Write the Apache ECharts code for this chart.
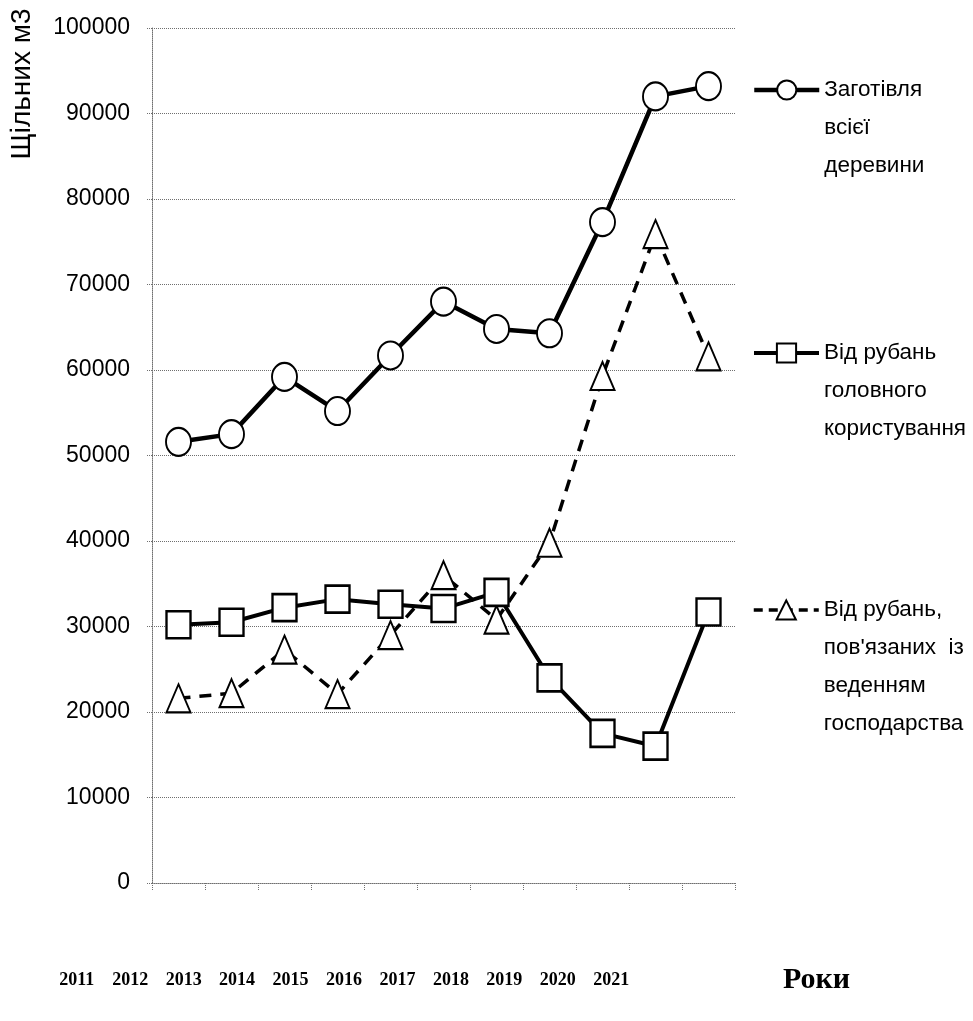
<!DOCTYPE html>
<html>
<head>
<meta charset="utf-8">
<script src="https://cdn.jsdelivr.net/npm/echarts@6/dist/echarts.min.js"></script>
<style>
  html, body { margin: 0; padding: 0; background: #fff; }
  #chart { width: 973px; height: 1021px; }
</style>
</head>
<body>
<div id="chart"></div>
<script>
// Timber harvest, thousand dense m3, by year
const years = ['2011', '2012', '2013', '2014', '2015', '2016', '2017', '2018', '2019', '2020', '2021'];

const seriesNames = [
  'Заготівля всієї деревини',
  'Від рубань головного користування',
  "Від рубань, пов'язаних із веденням господарства"
];

// Legend text broken into lines
const legendLines = [
  ['Заготівля', 'всієї', 'деревини'],
  ['Від рубань', 'головного', 'користування'],
  ['Від рубань,', "пов'язаних  із", 'веденням', 'господарства']
];

const totalHarvest = [51600, 52500, 59200, 55200, 61700, 68000, 64800, 64300, 77300, 92000, 93200];
const mainCuttings = [30200, 30500, 32200, 33200, 32600, 32100, 34000, 24000, 17500, 16000, 31700];
const careCuttings = [21600, 22200, 27300, 22100, 29000, 36000, 30800, 39800, 59300, 75900, 61600];

const yAxisTitle = 'Щільних м3';
const xAxisTitle = 'Роки';

const sansFont = '"Liberation Sans", Arial, sans-serif';
const serifFont = '"Liberation Serif", "Times New Roman", serif';
const dotted = { type: 'dotted', color: '#6f6f6f', width: 1 };
const LEGEND_LINE_HEIGHT = 38;

// Line styles shared by each series and its legend icon
const lineStyles = [
  { color: '#000', width: 4.5, type: 'solid' },
  { color: '#000', width: 4, type: 'solid' },
  { color: '#000', width: 3.5, type: [12, 9] }
];

// The legend centres its text block on the icon; leading blank lines keep
// the first line of each caption level with the icon.
function legendFor(idx, top) {
  const lines = legendLines[idx];
  const lead = new Array(lines.length - 1).fill('');
  return {
    data: [seriesNames[idx]],
    left: 752,
    top: top,
    orient: 'vertical',
    padding: 0,
    itemWidth: 65,
    itemHeight: 24,
    selectedMode: false,
    lineStyle: Object.assign({}, lineStyles[idx], { type: idx === 2 ? [9, 6] : 'solid' }),
    formatter: () => lead.concat(lines).join('\n'),
    textStyle: {
      fontFamily: sansFont,
      fontSize: 22.5,
      color: '#000',
      lineHeight: LEGEND_LINE_HEIGHT
    }
  };
}

const chart = echarts.init(document.getElementById('chart'), null, { renderer: 'canvas' });

chart.setOption({
  backgroundColor: '#fff',
  animation: false,
  grid: [
    { left: 152, right: 238, top: 28, bottom: 138 },
    { left: 50, width: 588, top: 900, height: 80 }
  ],
  legend: [
    legendFor(0, -5),
    legendFor(1, 258),
    legendFor(2, 477)
  ],
  graphic: [{
    type: 'text',
    x: 22,
    y: 84,
    rotation: Math.PI / 2,
    style: {
      text: yAxisTitle,
      font: '28px ' + sansFont,
      fill: '#000',
      align: 'center',
      verticalAlign: 'middle'
    }
  }],
  xAxis: [
    {
      gridIndex: 0,
      type: 'category',
      data: years,
      boundaryGap: true,
      axisLine: { show: true, lineStyle: dotted },
      axisTick: { show: true, length: 8, lineStyle: dotted },
      axisLabel: { show: false },
      splitLine: { show: false }
    },
    {
      gridIndex: 1,
      type: 'category',
      data: years,
      boundaryGap: true,
      axisLine: { show: false },
      axisTick: { show: false },
      axisLabel: {
        interval: 0,
        margin: 0,
        verticalAlign: 'middle',
        fontFamily: serifFont,
        fontWeight: 'bold',
        fontSize: 18,
        color: '#000'
      },
      name: xAxisTitle,
      nameLocation: 'end',
      nameGap: 145,
      nameTextStyle: {
        fontFamily: serifFont,
        fontWeight: 'bold',
        fontSize: 30,
        color: '#000',
        verticalAlign: 'middle'
      }
    }
  ],
  yAxis: [
    {
      gridIndex: 0,
      type: 'value',
      min: 0,
      max: 100000,
      interval: 10000,
      axisLine: { show: true, lineStyle: dotted },
      axisTick: { show: true, length: 6, lineStyle: dotted },
      axisLabel: {
        margin: 22,
        formatter: (v) => String(v),
        fontFamily: sansFont,
        fontSize: 23,
        color: '#000'
      },
      splitLine: { show: true, lineStyle: dotted }
    },
    { gridIndex: 1, type: 'value', show: false }
  ],
  series: [
    {
      name: seriesNames[2],
      type: 'line',
      data: careCuttings,
      symbol: 'triangle',
      symbolSize: [24, 28],
      showAllSymbol: true,
      lineStyle: lineStyles[2],
      itemStyle: { color: '#fff', borderColor: '#000', borderWidth: 2 },
      z: 2
    },
    {
      name: seriesNames[1],
      type: 'line',
      data: mainCuttings,
      symbol: 'rect',
      symbolSize: [24, 27],
      showAllSymbol: true,
      lineStyle: lineStyles[1],
      itemStyle: { color: '#fff', borderColor: '#000', borderWidth: 2.5 },
      z: 3
    },
    {
      name: seriesNames[0],
      type: 'line',
      data: totalHarvest,
      symbol: 'circle',
      symbolSize: [25, 28],
      showAllSymbol: true,
      lineStyle: lineStyles[0],
      itemStyle: { color: '#fff', borderColor: '#000', borderWidth: 2 },
      z: 4
    }
  ]
});
</script>
</body>
</html>
